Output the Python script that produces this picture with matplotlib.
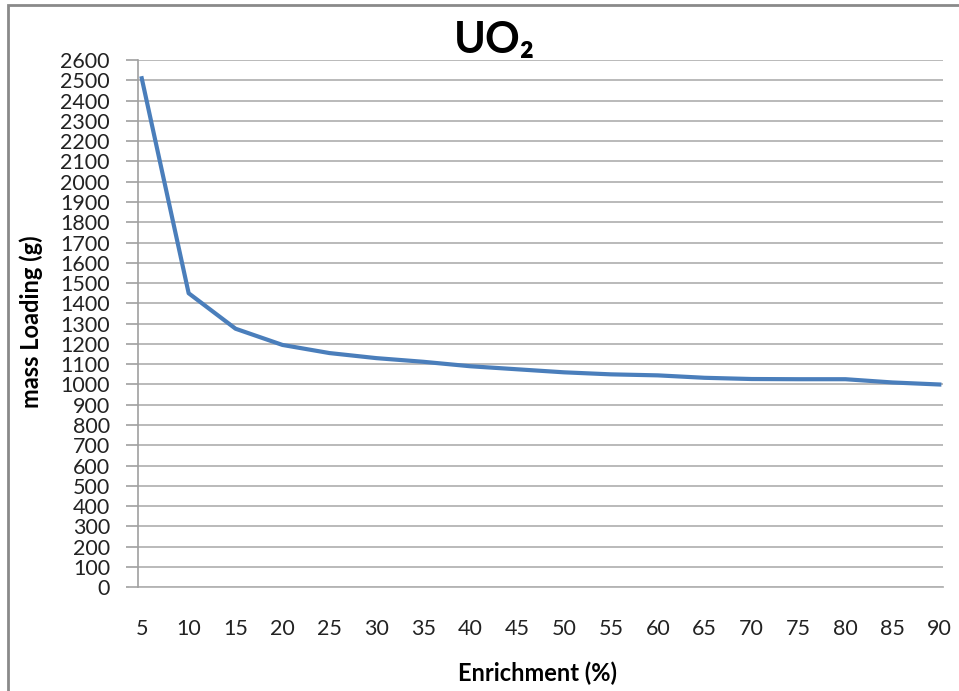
import matplotlib.pyplot as plt
from matplotlib.patches import Rectangle

# enrichment (%) vs mass loading (g)
enrichment = [5, 10, 15, 20, 25, 30, 35, 40, 45, 50, 55, 60, 65, 70, 75, 80, 85, 90]
mass_loading = [2510, 1450, 1275, 1195, 1155, 1130, 1112, 1090, 1075, 1060,
                1050, 1045, 1033, 1027, 1026, 1026, 1010, 1000]
y_ticks = list(range(0, 2601, 100))

plt.rcParams["font.family"] = ["Lato", "DejaVu Sans"]

W, H = 959, 691
fig = plt.figure(figsize=(W / 100, H / 100), dpi=100)

# outer chart frame (cropped at right and bottom)
fig.patches.append(Rectangle((8 / W, -0.05), 1.1, 1 - 5 / H + 0.05,
                             transform=fig.transFigure, fill=False,
                             edgecolor="#8a8a8a", linewidth=2))

ax = fig.add_axes([137.7 / W, 1 - 587.3 / H, (942.7 - 137.7) / W, (587.3 - 60) / H])

ax.plot(enrichment, mass_loading, color="#4a7ebb", linewidth=3,
        solid_joinstyle="round", zorder=3)

ax.set_xlim(4.57, 90.36)
ax.set_ylim(0, 2600)
ax.set_xticks(enrichment)
ax.set_yticks(y_ticks)
ax.grid(axis="y", color="#b4b4b4", linewidth=1.3)
ax.grid(axis="x", visible=False)
ax.set_axisbelow(True)

for side in ["top", "right", "bottom"]:
    ax.spines[side].set_visible(False)
ax.spines["left"].set_color("#a0a0a0")
ax.spines["left"].set_linewidth(1.2)

ax.tick_params(axis="y", direction="out", length=9, width=1.2, color="#a0a0a0",
               labelsize=15.5, pad=11, labelcolor="#222222")
ax.tick_params(axis="x", length=0, labelsize=15.5, pad=23, labelcolor="#222222")

# extend zero gridline left like the reference
ax.plot([4.57 - 0.85, 90.36], [0, 0], color="#b4b4b4", linewidth=1.3,
        clip_on=False, zorder=1)

fig.text(31 / W, 1 - 322 / H, "mass Loading (g)", rotation=90, ha="center",
         va="center", fontsize=17, fontweight="bold")
fig.text(538 / W, 1 - 673 / H, "Enrichment (%)", ha="center", va="center",
         fontsize=17, fontweight="bold")

fig.text(494 / W, 1 - 40 / H, "UO₂", ha="center", va="center",
         fontsize=31, fontweight="bold")

fig.savefig("out.png", dpi=100)
